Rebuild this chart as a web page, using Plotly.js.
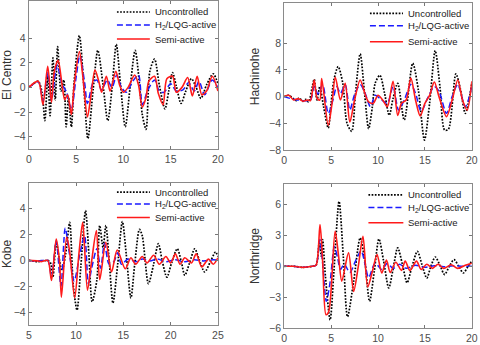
<!DOCTYPE html>
<html>
<head>
<meta charset="utf-8">
<script src="https://cdn.plot.ly/plotly-3.0.1.min.js"></script>
<style>
    body { margin: 0; background: #fff; }
    #chart { width: 480px; height: 345px; }
</style>
</head>
<body>
<div id="chart"></div>
<script>
// El Centro
const elCentroUncT = [0, 0.5, 1.0, 1.4, 1.7, 2.0, 2.25, 2.55, 2.8, 3.05, 3.4, 3.7, 3.95, 4.2, 4.5, 4.8, 5.35, 5.8, 6.25, 6.8, 7.3, 7.85, 8.35, 8.8, 9.25, 9.7, 10.2, 10.7, 11.25, 11.7, 12.0, 12.4, 12.8, 13.3, 13.8, 14.4, 14.8, 15.2, 15.6, 16.1, 16.6, 17.2, 17.7, 18.2, 18.8, 19.5, 20];
const elCentroUnc = [0, 0.3, 0.5, -0.4, -2.7, 1.0, -2.3, 2.4, -1.0, 3.3, -0.3, 0.6, -3.2, -0.8, -3.2, 0.5, 4.2, 0.3, -4.15, -0.2, 3.0, 0.2, -2.7, -0.1, 3.5, 0.2, -3.2, -0.1, 3.0, 0.3, -2.2, -3.4, 1.3, 2.3, 0.2, -1.75, -0.3, 1.2, 0.1, -1.3, -0.3, 0.7, 0.0, -0.9, 0.2, 1.1, 0.3];
const elCentroActT = [0, 1.0, 1.5, 2.0, 2.4, 3.0, 3.5, 4.0, 4.5, 5.0, 5.4, 5.9, 6.2, 6.8, 7.2, 7.7, 8.3, 8.8, 9.3, 9.8, 10.3, 11.0, 11.6, 12.0, 12.6, 13.3, 13.8, 14.3, 15.0, 15.6, 16.3, 16.9, 17.5, 18.0, 18.6, 19.4, 20];
const elCentroAct = [0, 0.45, -1.1, 1.2, -1.0, 1.8, 0.3, -0.4, -1.8, 0.8, 2.6, 0.4, -1.3, 0.4, 0.6, -0.2, 0.6, 0, 1.0, 0, -0.4, 0.5, 1.0, -1.4, -0.2, 0.6, -0.3, -0.4, 0.3, -0.3, -0.2, 0.4, -0.3, 0.5, -0.6, 0.6, 0];
const elCentroSemiT = [0, 1.0, 1.5, 2.0, 2.4, 2.7, 3.1, 3.5, 3.8, 4.1, 4.5, 4.8, 5.35, 5.7, 6.2, 6.6, 7.0, 7.4, 7.7, 8.2, 8.6, 9.2, 9.6, 10.0, 10.5, 11.2, 11.6, 12.0, 12.4, 12.7, 13.3, 13.7, 14.2, 14.6, 15.2, 15.6, 16.2, 16.8, 17.3, 17.8, 18.3, 18.8, 19.4, 20];
const elCentroSemi = [0, 0.5, -1.4, 1.7, -1.2, 1.3, 2.2, 0.3, -1.0, -0.6, -2.2, 0.2, 2.9, 1.0, -2.4, -0.5, 1.4, 0.5, -0.4, 0.9, -0.3, 1.3, 0.2, -0.4, 0, 1.0, 0.2, -1.6, -0.8, 0.5, 0.9, -0.5, -1.4, 0.7, 0.9, -0.4, 0, 0.8, -0.7, 0.9, -0.6, -0.3, 0.9, -0.3];

// Hachinohe
const hachinoheUncT = [0, 0.5, 1.0, 1.3, 1.6, 2.0, 2.3, 2.6, 3.0, 3.2, 3.5, 3.8, 4.2, 4.7, 5.0, 5.3, 5.75, 6.25, 6.7, 7.2, 7.6, 8.1, 8.6, 9.0, 9.4, 9.7, 10.2, 10.7, 11.2, 11.6, 12.1, 12.8, 13.7, 14.3, 14.95, 15.5, 16.1, 16.6, 17.1, 17.5, 18.3, 18.8, 19.3, 20];
const hachinoheUnc = [0, 0.2, -0.3, -0.6, -0.2, -0.7, -0.4, -0.8, 1.5, 2.6, -0.5, 1.5, -1.5, -4.7, -1.0, 2.5, 4.5, 2.0, -4.0, -5.2, 0.5, 6.4, 0, -4.8, -1.5, 2.0, 3.2, 0.5, -2.8, -0.3, 2.0, -3.5, 5.0, 1.0, -6.5, -1.0, 6.9, 1.5, -5.0, -4.9, 3.4, 1.0, -2.5, 2.0];
const hachinoheActT = [0, 1.0, 2.0, 2.8, 3.2, 3.6, 4.1, 4.7, 5.2, 5.6, 6.0, 6.5, 7.0, 7.5, 8.1, 8.6, 9.2, 9.7, 10.4, 11.0, 11.6, 12.2, 12.8, 13.5, 14.0, 14.6, 15.3, 16.0, 16.5, 17.3, 17.9, 18.5, 19.3, 20];
const hachinoheAct = [0, -0.4, -0.6, -0.5, 1.5, 0.4, 1.8, -2.5, -0.5, 1.5, 0.5, 1.8, -2.0, 0.3, 1.8, 0.6, -1.5, 0.2, -0.5, -1.0, 1.5, -2.0, -0.5, 1.8, 0.5, -2.2, -0.2, 1.5, 0.8, -2.5, 0, 1.8, -1.5, 1.5];
const hachinoheSemiT = [0, 0.5, 1.0, 1.5, 2.0, 2.5, 2.8, 3.2, 3.5, 3.8, 4.0, 4.7, 5.1, 5.45, 6.0, 6.5, 7.0, 7.5, 8.1, 8.6, 9.0, 9.5, 10.0, 10.5, 11.0, 11.6, 12.1, 12.5, 13.0, 13.5, 14.0, 14.5, 15.0, 15.5, 16.0, 16.5, 17.3, 17.9, 18.5, 19.0, 19.5, 20];
const hachinoheSemi = [0, 0.2, -0.5, -0.3, -0.7, -0.5, -0.6, 2.5, -0.2, -0.5, 2.7, -4.3, -1.0, 2.9, -0.5, 2.0, -3.8, -0.5, 2.5, 0.5, -0.8, -1.0, 0.2, -0.5, -1.5, 2.3, -2.8, -1.0, -0.5, 2.8, -0.5, -2.9, -1.0, 0.2, 2.2, 0, -3.0, -0.5, 2.5, -0.5, -2.0, 2.3];

// Kobe
const kobeUncT = [5, 6, 6.5, 7, 7.3, 7.55, 7.9, 8.2, 8.5, 8.9, 9.33, 9.7, 10.1, 10.5, 11.0, 11.35, 11.7, 12.2, 12.5, 12.85, 13.15, 13.5, 13.9, 14.4, 14.9, 15.3, 15.8, 16.2, 16.7, 17.0, 17.65, 18.2, 18.7, 19.1, 19.6, 20.1, 20.7, 21.1, 21.5, 22.0, 22.55, 23.0, 23.6, 24.2, 24.75, 25];
const kobeUnc = [0, -0.1, -0.05, 0, -0.2, -1.3, 1.4, 0.2, -0.8, 0.5, 2.95, -1.9, -3.85, -0.5, 3.85, 0.5, -3.2, -1.5, 2.7, 1.0, 2.7, 0, -3.3, -0.3, 3.0, 0.5, -2.9, -0.3, 2.4, 1.9, -1.8, -0.3, 1.3, 0, -1.3, -0.2, 0.9, 0, -1.15, -0.2, 0.9, 0.1, -0.9, -0.1, 0.65, 0.3];
const kobeActT = [5, 6, 7, 7.4, 7.9, 8.4, 8.85, 9.3, 9.8, 10.4, 10.9, 11.3, 11.65, 12.2, 12.6, 13.0, 13.5, 14.0, 14.4, 14.8, 15.5, 16.3, 17.0, 17.8, 18.6, 19.5, 20.5, 21.5, 22.5, 23.5, 24.5, 25];
const kobeAct = [0, -0.05, 0, -1.3, 1.5, -2.0, 2.5, 0.5, -1.6, 0.5, 1.9, -1.8, -0.6, 0.9, -0.6, 1.3, -0.3, -0.1, 0.6, -0.3, 0.1, -0.1, 0.1, -0.05, 0.1, -0.1, 0.05, -0.1, 0.05, -0.05, 0.05, 0];
const kobeSemiT = [5, 6, 6.3, 7, 7.4, 7.9, 8.25, 8.45, 9.0, 9.3, 9.85, 10.3, 10.7, 11.2, 11.6, 12.15, 12.5, 13.15, 13.75, 14.35, 15.2, 15.8, 16.3, 17.0, 17.5, 18.2, 18.8, 19.5, 20.0, 20.5, 21.0, 21.5, 22.2, 22.7, 23.3, 24.0, 24.5, 25];
const kobeSemi = [0, -0.05, -0.1, 0, -1.55, 1.65, -0.1, -2.85, 1.8, 0.8, -2.9, 0.5, 2.95, -2.3, -0.3, 2.3, -1.5, 1.4, -0.9, 0.8, -0.65, 0.2, -0.3, 0.3, -0.2, 0.4, -0.3, 0.3, -0.2, 0.5, -0.3, 0.2, -0.2, 0.5, -0.5, 0.1, -0.3, 0.2];

// Northridge
const northridgeUncT = [0, 1, 2, 3, 3.4, 3.75, 3.95, 4.1, 4.4, 4.9, 5.3, 5.85, 6.3, 6.75, 7.4, 8.1, 8.6, 9.1, 9.6, 10.1, 10.6, 11.15, 11.6, 12.1, 12.6, 13.1, 13.6, 14.2, 14.7, 15.2, 15.6, 16.1, 16.6, 17.1, 17.6, 18.1, 18.6, 19.1, 19.6, 20];
const northridgeUnc = [0, 0, -0.1, 0, 0.1, 2.4, 1.0, 2.6, -1.0, -5.2, -0.5, 6.3, 1.0, -4.9, -1.5, 2.75, 0.5, -3.4, -0.5, 2.65, 0.5, -2.1, -0.3, 1.8, 0.2, -1.6, -0.1, 1.45, 0.1, -1.15, -0.1, 0.9, 0.1, -0.8, 0, 0.65, 0, -0.65, 0, 0.5];
const northridgeActT = [0, 1, 2, 3, 3.4, 3.8, 4.1, 4.5, 4.9, 5.35, 5.7, 6.0, 6.4, 7.0, 7.6, 8.2, 8.6, 9.0, 9.7, 10.4, 11.0, 11.6, 12.3, 13.0, 14.0, 15.0, 16.0, 17.0, 18.0, 19.0, 20];
const northridgeAct = [0, 0, -0.1, 0, 0.1, 2.6, 0.3, -3.4, -1.5, 1.9, 0.8, -0.3, 0.2, -0.6, 0.5, 1.5, 0.3, -1.1, 0.3, -0.3, 0.3, -0.2, 0.2, -0.2, 0.1, -0.1, 0.05, -0.05, 0.05, 0, 0];
const northridgeSemiT = [0, 1, 2, 3, 3.4, 3.82, 4.1, 4.46, 4.75, 5.43, 5.8, 6.14, 6.86, 7.4, 7.9, 8.4, 8.9, 9.4, 9.9, 10.4, 10.9, 11.3, 11.9, 12.5, 12.9, 13.4, 14.1, 14.6, 15.2, 15.8, 16.4, 17.0, 17.8, 18.5, 19.3, 20];
const northridgeSemi = [0, 0, -0.1, 0, 0.1, 4.05, 0.5, -4.7, -4.4, 3.4, 1.0, -1.45, 1.3, -2.45, 0, 2.9, -2.0, -0.5, 1.15, -0.65, 0.6, -0.6, 0.4, -0.4, 0.5, -0.4, 0.5, -0.3, 0.2, -0.2, 0.2, -0.2, 0.15, -0.2, 0.1, 0.3];

const seriesNames = ['Uncontrolled', 'H<sub>2</sub>/LQG-active', 'Semi-active'];
const stationNames = ['El Centro', 'Hachinohe', 'Kobe', 'Northridge'];

const lineStyles = [
    { color: '#000000', width: 1.7, dash: '1.7px,1.5px' },
    { color: '#1a1aff', width: 1.5, dash: '6px,3px' },
    { color: '#ff1a1a', width: 1.6, dash: 'solid' }
];

const panels = [
    { sets: [[elCentroUncT, elCentroUnc], [elCentroActT, elCentroAct], [elCentroSemiT, elCentroSemi]] },
    { sets: [[hachinoheUncT, hachinoheUnc], [hachinoheActT, hachinoheAct], [hachinoheSemiT, hachinoheSemi]] },
    { sets: [[kobeUncT, kobeUnc], [kobeActT, kobeAct], [kobeSemiT, kobeSemi]] },
    { sets: [[northridgeUncT, northridgeUnc], [northridgeActT, northridgeAct], [northridgeSemiT, northridgeSemi]] }
];

const data = [];
panels.forEach((p, i) => {
    const sfx = i === 0 ? '' : String(i + 1);
    p.sets.forEach((s, k) => {
        data.push({
            x: s[0], y: s[1],
            type: 'scatter', mode: 'lines',
            name: seriesNames[k],
            xaxis: 'x' + sfx, yaxis: 'y' + sfx,
            line: Object.assign({ shape: 'spline', smoothing: 0.8 }, lineStyles[k]),
            showlegend: false
        });
    });
});

const tickFont = { family: 'Liberation Sans, Arial, sans-serif', size: 10.5, color: '#4d4d4d' };

function xAxis(domain, range, anchor) {
    return {
        domain: domain, range: range, anchor: anchor,
        tickvals: [range[0], range[0] + 5, range[0] + 10, range[0] + 15, range[1]],
        ticks: 'inside', ticklen: 3, tickcolor: '#777',
        showline: true, linecolor: '#8a8a8a', linewidth: 1, mirror: 'ticks',
        showgrid: false, zeroline: false, tickfont: tickFont
    };
}

function yAxis(domain, range, tickvals, title, anchor) {
    return {
        domain: domain, range: range, anchor: anchor, tickvals: tickvals,
        ticks: 'inside', ticklen: 3, tickcolor: '#777',
        showline: true, linecolor: '#8a8a8a', linewidth: 1, mirror: 'ticks',
        showgrid: false, zeroline: false, tickfont: tickFont,
        title: { text: title, font: { family: 'Liberation Sans, Arial, sans-serif', size: 12, color: '#333' }, standoff: 6 }
    };
}

// legend positions (axis-domain units): sample start, sample end, text x, row y's
const legendPos = [
    { x0: 0.466, x1: 0.640, tx: 0.656, ys: [0.926, 0.838, 0.743] },
    { x0: 0.457, x1: 0.633, tx: 0.647, ys: [0.930, 0.846, 0.737] },
    { x0: 0.466, x1: 0.640, tx: 0.656, ys: [0.935, 0.852, 0.756] },
    { x0: 0.449, x1: 0.635, tx: 0.647, ys: [0.924, 0.836, 0.731] }
];

const shapes = [];
const annotations = [];
legendPos.forEach((lp, i) => {
    const sfx = i === 0 ? '' : String(i + 1);
    lp.ys.forEach((yy, k) => {
        shapes.push({
            type: 'line', xref: 'x' + sfx + ' domain', yref: 'y' + sfx + ' domain',
            x0: lp.x0, x1: lp.x1, y0: yy, y1: yy,
            line: { color: lineStyles[k].color, width: lineStyles[k].width, dash: lineStyles[k].dash }
        });
        annotations.push({
            xref: 'x' + sfx + ' domain', yref: 'y' + sfx + ' domain',
            x: lp.tx, y: yy, xanchor: 'left', yanchor: 'middle',
            text: seriesNames[k], showarrow: false,
            font: { family: 'Liberation Sans, Arial, sans-serif', size: 9.5, color: '#1a1a1a' }
        });
    });
});

const layout = {
    width: 480, height: 345,
    margin: { l: 0, r: 0, t: 0, b: 0 },
    paper_bgcolor: '#fff', plot_bgcolor: '#fff',
    showlegend: false,
    xaxis: xAxis([0.060, 0.454], [0, 20], 'y'),
    yaxis: yAxis([0.568, 0.997], [-5, 7], [-4, -2, 0, 2, 4], stationNames[0], 'x'),
    xaxis2: xAxis([0.592, 0.983], [0, 20], 'y2'),
    yaxis2: yAxis([0.565, 0.991], [-8, 14], [-8, -4, 0, 4, 8], stationNames[1], 'x2'),
    xaxis3: xAxis([0.060, 0.454], [5, 25], 'y3'),
    yaxis3: yAxis([0.058, 0.470], [-5, 6], [-4, -2, 0, 2, 4], stationNames[2], 'x3'),
    xaxis4: xAxis([0.592, 0.983], [0, 20], 'y4'),
    yaxis4: yAxis([0.049, 0.467], [-6, 8], [-6, -3, 0, 3, 6], stationNames[3], 'x4'),
    shapes: shapes,
    annotations: annotations
};

Plotly.newPlot('chart', data, layout, { staticPlot: true, displayModeBar: false });
</script>
</body>
</html>
